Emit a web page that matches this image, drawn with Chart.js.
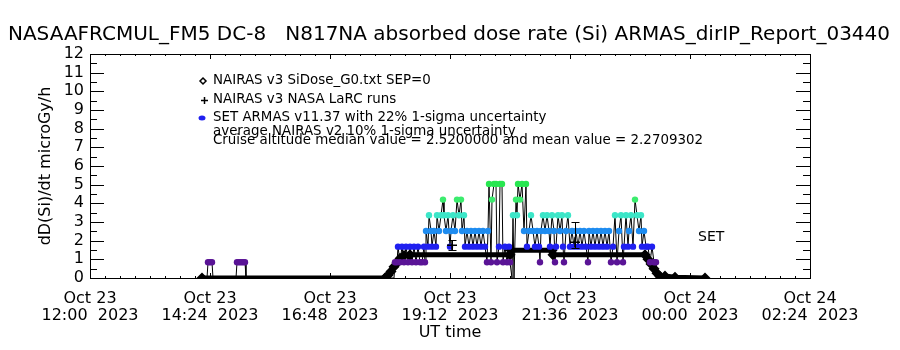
<!DOCTYPE html>
<html>
<head>
<meta charset="utf-8">
<title>ARMAS dose rate</title>
<script src="https://cdn.jsdelivr.net/npm/chart.js@4.4.0/dist/chart.umd.min.js"></script>
<style>
    html, body { margin: 0; padding: 0; background: #fff; }
    #wrap { width: 900px; height: 350px; }
</style>
</head>
<body>
<div id="wrap"><canvas id="chart-dose" width="900" height="350"></canvas></div>
<script>
// Axis ticks
const xTickHours  = [12, 14.4, 16.8, 19.2, 21.6, 24, 26.4];
const xTickLabels = [
    ["Oct 23", "12:00  2023"], ["Oct 23", "14:24  2023"], ["Oct 23", "16:48  2023"],
    ["Oct 23", "19:12  2023"], ["Oct 23", "21:36  2023"], ["Oct 24", "00:00  2023"],
    ["Oct 24", "02:24  2023"]
];
const yTickValues = [0, 1, 2, 3, 4, 5, 6, 7, 8, 9, 10, 11, 12];

// SET ARMAS measured dose rate (hours UT from Oct 23 00:00, microGy/h)
const armasHours = [
    14.24, 14.34, 14.36, 14.40, 14.44, 14.46, 14.92, 14.94, 14.98, 15.02, 15.06, 15.10, 15.12,
    15.80, 16.60, 17.40, 18.08,
    18.10, 18.14, 18.16, 18.20, 18.24, 18.28, 18.32, 18.36, 18.40, 18.44, 18.48, 18.52, 18.56,
    18.60, 18.64, 18.68, 18.70, 18.72, 18.76, 18.78, 18.82, 18.84, 18.88, 18.92, 18.94, 18.98,
    19.02, 19.06, 19.08, 19.12, 19.16, 19.20, 19.22, 19.26, 19.30, 19.34, 19.38, 19.42, 19.44,
    19.48, 19.50, 19.54, 19.58, 19.62, 19.66, 19.70, 19.74, 19.78, 19.82, 19.86, 19.90, 19.94,
    19.96, 19.98, 20.02, 20.04, 20.08, 20.12, 20.14, 20.18, 20.20, 20.24, 20.26, 20.30, 20.34,
    20.38, 20.40, 20.44, 20.46, 20.48, 20.52, 20.54, 20.56, 20.60, 20.64, 20.68, 20.72, 20.74,
    20.78, 20.82, 20.86, 20.90, 20.94, 20.98, 21.00, 21.02, 21.06, 21.10, 21.14, 21.18, 21.20,
    21.24, 21.28, 21.30, 21.32, 21.36, 21.40, 21.44, 21.46, 21.48, 21.52, 21.56, 21.60, 21.64,
    21.68, 21.72, 21.76, 21.80, 21.84, 21.88, 21.92, 21.96, 21.98, 22.02, 22.06, 22.10, 22.14,
    22.18, 22.22, 22.26, 22.30, 22.34, 22.38, 22.42, 22.46, 22.50, 22.54, 22.58, 22.62, 22.66,
    22.68, 22.72, 22.76, 22.78, 22.82, 22.86, 22.90, 22.94, 22.98, 23.02, 23.04, 23.08, 23.12,
    23.16, 23.20, 23.24, 23.28, 23.32, 23.36, 23.60, 24.00, 24.30
];
const armasDose = [
    0, 0, 0.84, 0.84, 0.84, 0, 0, 0.84, 0.84, 0.84, 0.84, 0.84, 0,
    0, 0, 0, 0,
    0.84, 0.84, 1.68, 0.84, 1.68, 0.84, 1.68, 0.84, 1.68, 0.84, 1.68, 0.84, 1.68,
    0.84, 0.84, 1.68, 0.84, 2.52, 1.68, 3.36, 2.52, 1.68, 2.52, 1.68, 3.36, 2.52,
    3.36, 4.20, 3.36, 2.52, 3.36, 1.68, 2.52, 3.36, 2.52, 4.20, 3.36, 4.20, 2.52,
    3.36, 1.68, 2.52, 1.68, 2.52, 1.68, 2.52, 1.68, 2.52, 1.68, 2.52, 1.68, 0.84,
    2.52, 5.04, 0.84, 4.20, 5.04, 5.04, 0.84, 1.68, 5.04, 5.04, 0.84, 1.68, 0.84,
    1.68, 0.84, 0, 3.36, 0, 4.20, 3.36, 5.04, 4.20, 5.04, 2.52, 5.04, 1.68,
    2.52, 3.36, 2.52, 1.68, 2.52, 1.68, 0.84, 2.52, 3.36, 2.52, 3.36, 2.52, 1.68,
    3.36, 2.52, 0.84, 1.68, 3.36, 2.52, 3.36, 1.68, 0.84, 2.52, 3.36, 1.68, 2.52,
    1.68, 2.52, 1.68, 2.52, 1.68, 2.52, 1.68, 0.84, 2.52, 1.68, 2.52, 1.68, 2.52,
    1.68, 2.52, 1.68, 2.52, 1.68, 2.52, 0.84, 1.68, 3.36, 0.84, 2.52, 3.36, 0.84,
    1.68, 3.36, 1.68, 2.52, 3.36, 1.68, 4.20, 3.36, 2.52, 3.36, 1.68, 2.52, 1.68,
    1.68, 0.84, 1.68, 0.84, 0.84, 0, 0, 0, 0
];

// NAIRAS v3 SiDose_G0 model along the flight track
const modelHours = [
    14.24, 17.90, 17.96, 18.02, 18.08, 18.14, 18.20, 18.28, 18.40, 20.40,
    20.42, 21.24, 21.26, 23.10, 23.16, 23.22, 23.28, 23.34, 23.40, 23.50,
    23.70, 24.30
];
const modelDose = [
    0, 0, 0.15, 0.35, 0.60, 0.80, 1.05, 1.20, 1.24, 1.24,
    1.48, 1.48, 1.24, 1.24, 1.00, 0.75, 0.50, 0.25, 0.08, 0.10,
    0.04, 0
];

// NAIRAS v3 NASA LaRC runs with uncertainty
const larcHours = [19.24, 21.70];
const larcDose  = [1.75, 1.91];
const larcLow   = [1.48, 1.60];
const larcHigh  = [2.02, 3.00];

const levelStep   = 0.84;
const levelColors = ["#000000", "#5a1496", "#2020f0", "#1e8cf0", "#3ce6c8", "#3cec6e", "#28e650"];

const FONT = "'DejaVu Sans', sans-serif";
const TITLE = "NASAAFRCMUL_FM5 DC-8   N817NA absorbed dose rate (Si) ARMAS_dirIP_Report_03440";

const toPoints = (xs, ys) => xs.map((h, i) => ({ x: h, y: ys[i] }));
const levelColor = v => levelColors[Math.min(levelColors.length - 1, Math.round(v / levelStep))];

// Title, box, inward ticks, legend and error bars
const framePlugin = {
    id: "frame",
    afterDatasetsDraw(chart) {
        const { ctx, chartArea: a, scales: { x, y } } = chart;
        ctx.save();
        ctx.strokeStyle = "#000";
        ctx.fillStyle = "#000";
        ctx.lineWidth = 1;

        ctx.font = "20px " + FONT;
        ctx.textAlign = "center";
        ctx.textBaseline = "middle";
        ctx.fillText(TITLE, 449, 35);
        ctx.textAlign = "left";

        // error bars for LaRC runs
        larcHours.forEach((h, i) => {
            const px = Math.round(x.getPixelForValue(h)) + 0.5;
            const top = Math.round(y.getPixelForValue(larcHigh[i])) + 0.5;
            const bot = Math.round(y.getPixelForValue(larcLow[i])) + 0.5;
            ctx.beginPath();
            ctx.moveTo(px, top); ctx.lineTo(px, bot);
            ctx.moveTo(px - 4, top); ctx.lineTo(px + 4, top);
            ctx.moveTo(px - 4, bot); ctx.lineTo(px + 4, bot);
            ctx.stroke();
        });

        ctx.strokeRect(a.left + 0.5, a.top + 0.5, a.right - a.left, a.bottom - a.top);

        ctx.beginPath();
        // y ticks, both sides
        for (let v = 0; v <= 12; v += 0.5) {
            const py = Math.round(y.getPixelForValue(v)) + 0.5;
            const len = Number.isInteger(v) ? 14 : 7;
            ctx.moveTo(a.left, py); ctx.lineTo(a.left + len, py);
            ctx.moveTo(a.right, py); ctx.lineTo(a.right - len, py);
        }
        // x ticks, top and bottom
        for (let k = 0; k <= 48; k++) {
            const px = Math.round(x.getPixelForValue(12 + k * 0.3)) + 0.5;
            const len = k % 8 === 0 ? 5 : 2;
            ctx.moveTo(px, a.bottom); ctx.lineTo(px, a.bottom - len);
            ctx.moveTo(px, a.top); ctx.lineTo(px, a.top + len);
        }
        ctx.stroke();

        // legend
        ctx.font = "13.4px " + FONT;
        ctx.fillText("NAIRAS v3 SiDose_G0.txt SEP=0", 213, 81);
        ctx.fillText("NAIRAS v3 NASA LaRC runs", 213, 100);
        ctx.fillText("SET ARMAS v11.37 with 22% 1-sigma uncertainty", 213, 118);
        ctx.fillText("average NAIRAS v2 10% 1-sigma uncertainty", 213, 132);
        ctx.fillText("Cruise altitude median value = 2.5200000 and mean value = 2.2709302", 213, 141);

        ctx.beginPath();
        ctx.moveTo(203, 78); ctx.lineTo(206, 81); ctx.lineTo(203, 84); ctx.lineTo(200, 81); ctx.closePath();
        ctx.lineWidth = 1.5;
        ctx.stroke();
        ctx.beginPath();
        ctx.moveTo(204.5, 97); ctx.lineTo(204.5, 104);
        ctx.moveTo(201, 100.5); ctx.lineTo(208, 100.5);
        ctx.stroke();
        ctx.fillStyle = "#2020f0";
        ctx.beginPath();
        ctx.ellipse(202, 118, 3.5, 2.5, 0, 0, Math.PI * 2);
        ctx.fill();

        ctx.fillStyle = "#000";
        ctx.font = "14px " + FONT;
        ctx.fillText("SET", 698, 237);
        ctx.restore();
    }
};

new Chart(document.getElementById("chart-dose"), {
    type: "line",
    data: {
        datasets: [
            {
                label: "SET ARMAS v11.37",
                data: toPoints(armasHours, armasDose),
                borderColor: "#000",
                borderWidth: 1,
                pointRadius: c => (c.raw && c.raw.y === 0 ? 0 : 3.2),
                pointBorderWidth: 0,
                pointBackgroundColor: c => levelColor(c.raw.y),
                tension: 0,
                order: 1,
            },
            {
                label: "NAIRAS v3 NASA LaRC runs",
                data: toPoints(larcHours, larcDose),
                showLine: false,
                pointStyle: "cross",
                pointRadius: 5,
                pointBorderWidth: 1.5,
                pointBorderColor: "#000",
                order: 0,
            },
            {
                label: "NAIRAS v3 SiDose_G0.txt SEP=0",
                data: toPoints(modelHours, modelDose),
                borderColor: "#000",
                borderWidth: 5,
                pointStyle: "rectRot",
                pointRadius: 2,
                pointBackgroundColor: "#000",
                pointBorderColor: "#000",
                tension: 0,
                order: 2,
            }
        ]
    },
    options: {
        responsive: false,
        animation: false,
        devicePixelRatio: 1,
        layout: { padding: { top: 54, right: 90, bottom: 0, left: 0 } },
        plugins: {
            legend: { display: false },
            tooltip: { enabled: false },
            title: { display: false }
        },
        scales: {
            x: {
                type: "linear",
                min: 12, max: 26.4,
                afterBuildTicks: s => { s.ticks = xTickHours.map(v => ({ value: v })); },
                afterFit: s => { s.height = 72; },
                grid: { display: false, drawTicks: false },
                border: { display: false },
                ticks: {
                    autoSkip: false, maxRotation: 0, padding: 12, color: "#000",
                    font: { family: FONT, size: 16, lineHeight: 1.07 },
                    callback: (v, i) => xTickLabels[i]
                },
                title: {
                    display: true, text: "UT time", color: "#000",
                    font: { family: FONT, size: 16, lineHeight: 1.2 },
                    padding: { top: 0, bottom: 8 }
                }
            },
            y: {
                min: 0, max: 12,
                afterBuildTicks: s => { s.ticks = yTickValues.map(v => ({ value: v })); },
                afterFit: s => { s.width = 90; },
                grid: { display: false, drawTicks: false },
                border: { display: false },
                ticks: {
                    autoSkip: false, padding: 6, color: "#000",
                    font: { family: FONT, size: 16 }
                },
                title: {
                    display: true, text: "dD(Si)/dt microGy/h", color: "#000",
                    font: { family: FONT, size: 16, lineHeight: 1.2 },
                    padding: { top: 36, bottom: 0 }
                }
            }
        }
    },
    plugins: [framePlugin]
});
</script>
</body>
</html>
